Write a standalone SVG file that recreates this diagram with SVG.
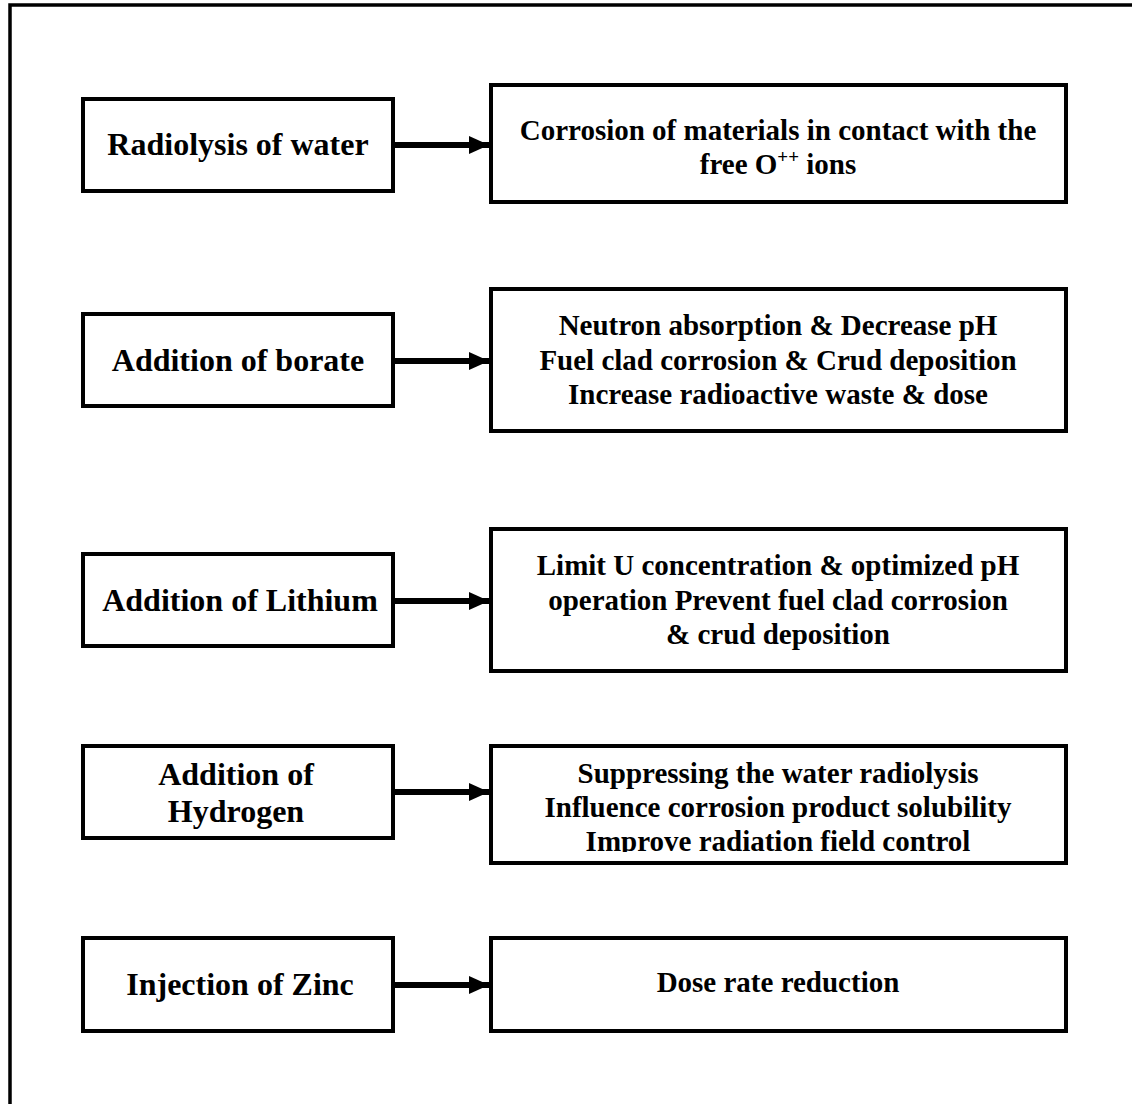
<svg xmlns="http://www.w3.org/2000/svg" width="1132" height="1104" viewBox="0 0 1132 1104">
  <style>
    .box { fill: none; stroke: #000; stroke-width: 4; }
    .bg { fill: #fff; stroke: none; }
    .frame { fill: none; stroke: #000; stroke-width: 3.5; }
    .lt { font-family: "Liberation Serif", "Times New Roman", serif; font-weight: bold; font-size: 32px; fill: #000; text-anchor: middle; }
    .rt { font-family: "Liberation Serif", "Times New Roman", serif; font-weight: bold; font-size: 29px; fill: #000; text-anchor: middle; }
    .conn { stroke: #000; stroke-width: 6; fill: none; }
  </style>
  <defs>
    <marker id="ah" markerUnits="userSpaceOnUse" markerWidth="20" markerHeight="20" viewBox="0 0 20 20" refX="20" refY="10" orient="auto">
      <path d="M0,1 L20,10 L0,19 Z" fill="#000"/>
    </marker>
    <clipPath id="clip4">
      <rect x="491" y="746" width="575" height="106"/>
    </clipPath>
  </defs>
  <rect width="1132" height="1104" fill="#fff"/>
  <g id="frame">
    <path class="frame" d="M10,1104 L10,5 L1132,5"/>
  </g>

  <g id="connectors">
    <line class="conn" x1="395" y1="145" x2="489" y2="145" marker-end="url(#ah)"/>
    <line class="conn" x1="395" y1="361" x2="489" y2="361" marker-end="url(#ah)"/>
    <line class="conn" x1="395" y1="601" x2="489" y2="601" marker-end="url(#ah)"/>
    <line class="conn" x1="395" y1="792" x2="489" y2="792" marker-end="url(#ah)"/>
    <line class="conn" x1="395" y1="985" x2="489" y2="985" marker-end="url(#ah)"/>
  </g>

  <g id="n-radiolysis">
    <rect class="box" x="83" y="99" width="310" height="92"/>
    <text class="lt" x="238" y="155">Radiolysis of water</text>
  </g>
  <g id="n-corrosion">
    <rect class="box" x="491" y="85" width="575" height="117"/>
    <text class="rt" x="778" y="140">Corrosion of materials in contact with the</text>
    <text class="rt" x="778" y="174">free O<tspan font-size="19" dy="-11">++</tspan><tspan dy="11"> ions</tspan></text>
  </g>

  <g id="n-borate">
    <rect class="box" x="83" y="314" width="310" height="92"/>
    <text class="lt" x="238" y="371">Addition of borate</text>
  </g>
  <g id="n-borate-effects">
    <rect class="box" x="491" y="289" width="575" height="142"/>
    <text class="rt" x="778" y="335">Neutron absorption &amp; Decrease pH</text>
    <text class="rt" x="778" y="370">Fuel clad corrosion &amp; Crud deposition</text>
    <text class="rt" x="778" y="404">Increase radioactive waste &amp; dose</text>
  </g>

  <g id="n-lithium">
    <rect class="box" x="83" y="554" width="310" height="92"/>
    <text class="lt" x="240" y="611">Addition of Lithium</text>
  </g>
  <g id="n-lithium-effects">
    <rect class="box" x="491" y="529" width="575" height="142"/>
    <text class="rt" x="778" y="575">Limit U concentration &amp; optimized pH</text>
    <text class="rt" x="778" y="610">operation Prevent fuel clad corrosion</text>
    <text class="rt" x="778" y="644">&amp; crud deposition</text>
  </g>

  <g id="n-hydrogen">
    <rect class="box" x="83" y="746" width="310" height="92"/>
    <text class="lt" x="236" y="785">Addition of</text>
    <text class="lt" x="236" y="822">Hydrogen</text>
  </g>
  <g id="n-hydrogen-effects">
    <rect class="box" x="491" y="746" width="575" height="117"/>
    <g clip-path="url(#clip4)">
      <text class="rt" x="778" y="783">Suppressing the water radiolysis</text>
      <text class="rt" x="778" y="817">Influence corrosion product solubility</text>
      <text class="rt" x="778" y="851">Improve radiation field control</text>
    </g>
  </g>

  <g id="n-zinc">
    <rect class="box" x="83" y="938" width="310" height="93"/>
    <text class="lt" x="240" y="995">Injection of Zinc</text>
  </g>
  <g id="n-zinc-effects">
    <rect class="box" x="491" y="938" width="575" height="93"/>
    <text class="rt" x="778" y="992">Dose rate reduction</text>
  </g>
</svg>
